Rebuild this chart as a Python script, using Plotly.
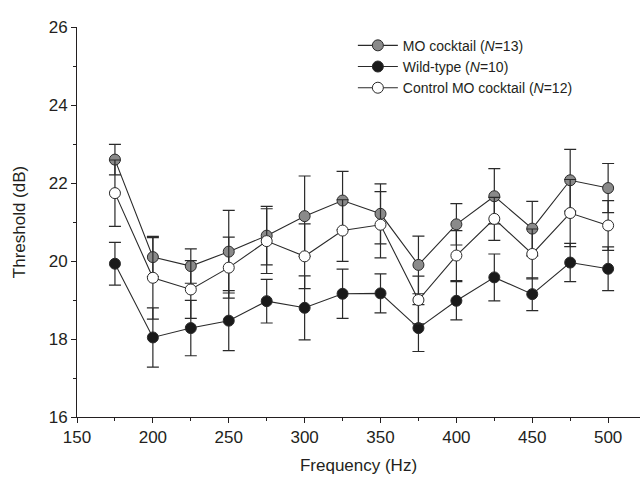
import plotly.graph_objects as go

freq = [175, 200, 225, 250, 275, 300, 325, 350, 375, 400, 425, 450, 475, 500]

mo_mean = [22.60, 20.10, 19.87, 20.24, 20.65, 21.15, 21.55, 21.21, 19.90, 20.94, 21.66, 20.83, 22.07, 21.87]
mo_err = [0.39, 0.50, 0.44, 1.06, 0.75, 1.03, 0.75, 0.77, 0.74, 0.53, 0.71, 0.70, 0.79, 0.63]

wt_mean = [19.93, 18.04, 18.28, 18.47, 18.97, 18.80, 19.16, 19.17, 18.28, 18.98, 19.58, 19.15, 19.96, 19.80]
wt_err = [0.55, 0.76, 0.71, 0.77, 0.56, 0.82, 0.63, 0.50, 0.60, 0.49, 0.60, 0.42, 0.49, 0.56]

ctl_mean = [21.74, 19.57, 19.27, 19.83, 20.51, 20.12, 20.78, 20.93, 19.00, 20.14, 21.08, 20.18, 21.23, 20.91]
ctl_err = [0.85, 1.06, 0.74, 0.78, 0.83, 0.83, 0.79, 0.85, 0.61, 0.64, 0.55, 0.64, 0.86, 0.64]

names = ["MO cocktail (<i>N</i>=13)", "Wild-type (<i>N</i>=10)", "Control MO cocktail (<i>N</i>=12)"]
fills = ["#8a8a8a", "#1a1a1a", "#ffffff"]

FONT = "Liberation Sans, Arial, sans-serif"
ink = "#231f20"

fig = go.Figure()
for name, m, e, fc in zip(names, [mo_mean, wt_mean, ctl_mean], [mo_err, wt_err, ctl_err], fills):
    fig.add_trace(go.Scatter(
        x=freq, y=m, name=name, mode="lines+markers",
        line=dict(color="#2a2a2a", width=1.1),
        marker=dict(size=11, color=fc, line=dict(color="#2a2a2a", width=1)),
        error_y=dict(type="data", array=e, visible=True, color="#2a2a2a", thickness=1.2, width=6),
    ))

fig.update_layout(
    width=642, height=485,
    margin=dict(l=77, r=2, t=27, b=68),
    plot_bgcolor="white", paper_bgcolor="white",
    font=dict(family=FONT, color=ink, size=17),
    showlegend=True,
    legend=dict(
        x=0.49, y=0.993, xanchor="left", yanchor="top",
        font=dict(family=FONT, size=14, color=ink),
        bgcolor="rgba(0,0,0,0)", tracegroupgap=0, itemwidth=40,
    ),
    xaxis=dict(
        range=[150, 521], tickmode="array", tickvals=[150, 200, 250, 300, 350, 400, 450, 500],
        showline=True, linecolor=ink, linewidth=1, ticks="outside", ticklen=5, tickcolor=ink,
        showgrid=False, zeroline=False,
        minor=dict(tickvals=[175, 225, 275, 325, 375, 425, 475], ticks="outside", ticklen=3, tickcolor=ink),
        tickfont=dict(size=17),
        title=dict(text="Frequency (Hz)", font=dict(size=17), standoff=12),
    ),
    yaxis=dict(
        range=[16, 26], tickmode="array", tickvals=[16, 18, 20, 22, 24, 26],
        showline=True, linecolor=ink, linewidth=1, ticks="outside", ticklen=5, tickcolor=ink,
        showgrid=False, zeroline=False,
        minor=dict(tickvals=[17, 19, 21, 23, 25], ticks="outside", ticklen=3, tickcolor=ink),
        tickfont=dict(size=17),
        title=dict(text="Threshold (dB)", font=dict(size=17), standoff=18),
    ),
)

fig.write_html("out.html")
